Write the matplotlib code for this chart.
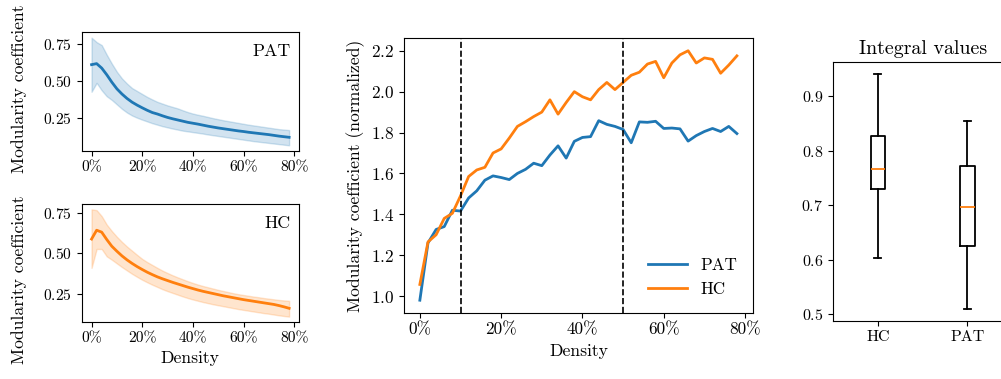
import numpy as np
import matplotlib
matplotlib.use("Agg")
import matplotlib.pyplot as plt
from matplotlib.ticker import PercentFormatter

plt.rcParams["font.family"] = "serif"
plt.rcParams["font.serif"] = ["cmr10"]
plt.rcParams["mathtext.fontset"] = "cm"
plt.rcParams["axes.formatter.use_mathtext"] = True
plt.rcParams["font.size"] = 12.7

# Density thresholds (percent)
density = list(range(0, 80, 2))

# Mean modularity coefficient and spread per group
pat_mean = [0.613, 0.62, 0.59, 0.545, 0.495, 0.45, 0.415, 0.385, 0.36, 0.34,
            0.322, 0.305, 0.29, 0.28, 0.268, 0.257, 0.248, 0.24, 0.232, 0.224,
            0.218, 0.212, 0.205, 0.198, 0.192, 0.186, 0.181, 0.176, 0.171, 0.166,
            0.162, 0.157, 0.153, 0.149, 0.145, 0.141, 0.136, 0.131, 0.127, 0.123]
pat_upper = [0.795, 0.765, 0.745, 0.68, 0.62, 0.565, 0.52, 0.485, 0.455, 0.435,
             0.415, 0.395, 0.378, 0.362, 0.35, 0.338, 0.328, 0.318, 0.305, 0.293,
             0.283, 0.275, 0.268, 0.26, 0.252, 0.245, 0.238, 0.232, 0.226, 0.22,
             0.214, 0.208, 0.203, 0.198, 0.193, 0.188, 0.183, 0.178, 0.175, 0.172]
pat_lower = [0.43, 0.49, 0.44, 0.40, 0.375, 0.345, 0.315, 0.29, 0.27, 0.255,
             0.242, 0.23, 0.218, 0.208, 0.198, 0.19, 0.182, 0.175, 0.168, 0.163,
             0.158, 0.153, 0.148, 0.142, 0.137, 0.132, 0.127, 0.122, 0.117, 0.112,
             0.107, 0.102, 0.097, 0.093, 0.089, 0.085, 0.081, 0.077, 0.073, 0.069]

hc_mean = [0.59, 0.645, 0.633, 0.587, 0.545, 0.514, 0.485, 0.46, 0.438, 0.418,
           0.40, 0.383, 0.368, 0.354, 0.342, 0.331, 0.32, 0.31, 0.3, 0.29,
           0.281, 0.272, 0.264, 0.257, 0.25, 0.243, 0.236, 0.23, 0.224, 0.218,
           0.212, 0.207, 0.202, 0.197, 0.192, 0.187, 0.182, 0.175, 0.167, 0.158]
hc_upper = [0.775, 0.77, 0.733, 0.68, 0.64, 0.604, 0.572, 0.543, 0.517, 0.491,
            0.466, 0.446, 0.428, 0.41, 0.393, 0.378, 0.364, 0.351, 0.339, 0.327,
            0.316, 0.306, 0.297, 0.289, 0.281, 0.273, 0.266, 0.259, 0.252, 0.246,
            0.241, 0.236, 0.231, 0.227, 0.222, 0.218, 0.214, 0.21, 0.207, 0.205]
hc_lower = [0.41, 0.528, 0.528, 0.482, 0.461, 0.438, 0.415, 0.394, 0.373, 0.354,
            0.336, 0.32, 0.305, 0.291, 0.277, 0.265, 0.254, 0.243, 0.232, 0.222,
            0.213, 0.205, 0.197, 0.19, 0.183, 0.177, 0.171, 0.165, 0.159, 0.153,
            0.148, 0.143, 0.138, 0.133, 0.128, 0.124, 0.119, 0.114, 0.11, 0.106]

# Normalized modularity coefficient
pat_norm = [0.98, 1.26, 1.326, 1.34, 1.42, 1.416, 1.48, 1.515, 1.567, 1.588,
            1.58, 1.57, 1.60, 1.62, 1.65, 1.638, 1.69, 1.735, 1.675, 1.757,
            1.776, 1.78, 1.858, 1.84, 1.83, 1.815, 1.75, 1.852, 1.85, 1.855,
            1.82, 1.822, 1.818, 1.758, 1.785, 1.805, 1.82, 1.805, 1.83, 1.795]
hc_norm = [1.057, 1.265, 1.30, 1.38, 1.405, 1.49, 1.585, 1.617, 1.63, 1.70,
           1.72, 1.773, 1.83, 1.853, 1.878, 1.90, 1.96, 1.89, 1.947, 2.00,
           1.975, 1.96, 2.01, 2.045, 2.01, 2.045, 2.08, 2.095, 2.135, 2.148,
           2.068, 2.14, 2.18, 2.20, 2.14, 2.165, 2.158, 2.09, 2.13, 2.175]

# Integral value summaries
groups = ["HC", "PAT"]
box_low = [0.603, 0.509]
box_q1 = [0.729, 0.626]
box_med = [0.767, 0.697]
box_q3 = [0.828, 0.772]
box_high = [0.941, 0.855]

blue = "C0"
orange = "C1"

fig = plt.figure(figsize=(10.01, 3.79), dpi=100)

ax_pat = fig.add_axes([0.0816, 0.6024, 0.2171, 0.3124])
ax_hc = fig.add_axes([0.0816, 0.1504, 0.2171, 0.3113])
ax_mid = fig.add_axes([0.4036, 0.175, 0.3484, 0.724])
ax_box = fig.add_axes([0.8322, 0.153, 0.179, 0.6826])

for ax, mean, lo, hi, col, name in [
    (ax_pat, pat_mean, pat_lower, pat_upper, blue, "PAT"),
    (ax_hc, hc_mean, hc_lower, hc_upper, orange, "HC"),
]:
    ax.fill_between(density, lo, hi, color=col, alpha=0.2)
    ax.plot(density, mean, color=col, lw=2)
    ax.set_ylabel("Modularity coefficient")
    ax.set_xticks([0, 20, 40, 60, 80])
    ax.xaxis.set_major_formatter(PercentFormatter(100, decimals=0))
    ax.set_yticks([0.25, 0.5, 0.75])
    ax.tick_params(labelsize=11.2)
    ax.text(0.96, 0.9, name, transform=ax.transAxes, ha="right", va="top", fontsize=12.8)
ax_hc.set_xlabel("Density")
# keep the two stacked y labels from running into each other
ax_pat.yaxis.set_label_coords(-0.25, 0.52)
ax_hc.yaxis.set_label_coords(-0.25, 0.356)

ax_mid.plot(density, pat_norm, color=blue, lw=2, label="PAT")
ax_mid.plot(density, hc_norm, color=orange, lw=2, label="HC")
ax_mid.axvline(10, color="k", ls="--", lw=1.2)
ax_mid.axvline(50, color="k", ls="--", lw=1.2)
ax_mid.set_xticks([0, 20, 40, 60, 80])
ax_mid.xaxis.set_major_formatter(PercentFormatter(100, decimals=0))
ax_mid.tick_params(labelsize=12.4)
ax_mid.set_xlabel("Density")
ax_mid.set_ylabel("Modularity coefficient (normalized)")
ax_mid.legend(loc="lower right", frameon=False, fontsize=12.3, handlelength=2.3)

stats = []
for i, g in enumerate(groups):
    stats.append({"label": g, "whislo": box_low[i], "q1": box_q1[i], "med": box_med[i],
                  "q3": box_q3[i], "whishi": box_high[i], "fliers": []})
ax_box.bxp(stats, widths=0.16, showfliers=False,
           boxprops=dict(lw=1.3), whiskerprops=dict(lw=1.3),
           capprops=dict(lw=1.3), medianprops=dict(color=orange, lw=1.3))
ax_box.set_xlim(0.5, 2.5)
ax_box.tick_params(labelsize=11.5)
ax_box.set_title("Integral values", fontsize=14.4)

fig.savefig("out.png", dpi=100)
